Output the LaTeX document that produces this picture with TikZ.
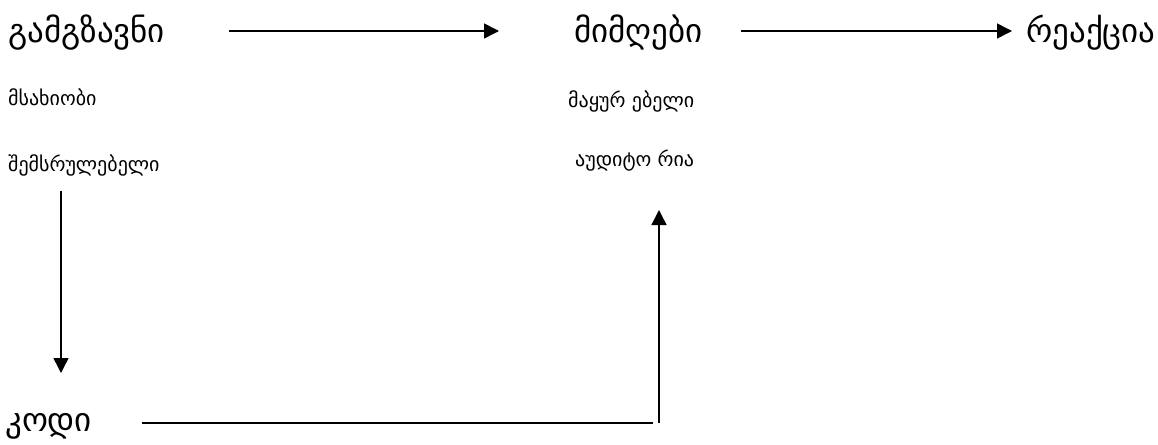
\documentclass[tikz,border=0pt]{standalone}
\usepackage{fontspec}
\setmainfont{DejaVu Sans}
\usetikzlibrary{arrows.meta}
\begin{document}
\begin{tikzpicture}[x=1pt,y=1pt,
  big/.style={anchor=base west,inner sep=0pt,font=\fontsize{33}{38}\selectfont},
  small/.style={anchor=base west,inner sep=0pt,font=\fontsize{20}{24}\selectfont},
  arr/.style={line width=1.5pt,-{Triangle[length=15pt,width=15pt]}},
  ln/.style={line width=1.5pt}]
\useasboundingbox (0,0) rectangle (1158,-444);
\node[big] (g) at (8,-42) {გამგზავნი};
\node[big] (m) at (574,-42) {მიმღები};
\node[big] (r) at (1026,-42) {რეაქცია};
\node[small] (s1) at (8,-105) {მსახიობი};
\node[small] (s2) at (8,-171) {შემსრულებელი};
\node[small] (m1) at (568,-107) {მაყურ ებელი};
\node[small] (m2) at (575,-166) {აუდიტო რია};
\node[big] (k) at (5,-431) {კოდი};
\coordinate (c1) at (653,-423);
\coordinate (c2) at (659,-423);
\draw[arr] ([xshift=221,yshift=11]g.base west) -- ([xshift=-75,yshift=11]m.base west);
\draw[arr] ([xshift=167,yshift=11]m.base west) -- ([xshift=-14,yshift=11]r.base west);
\draw[arr] ([xshift=53,yshift=-20]s2.base west) -- ([xshift=56,yshift=58]k.base west);
\draw[ln] ([xshift=137,yshift=8]k.base west) -- (c1);
\draw[arr] (c2) -- ([xshift=84,yshift=-44]m2.base west);
\end{tikzpicture}
\end{document}
